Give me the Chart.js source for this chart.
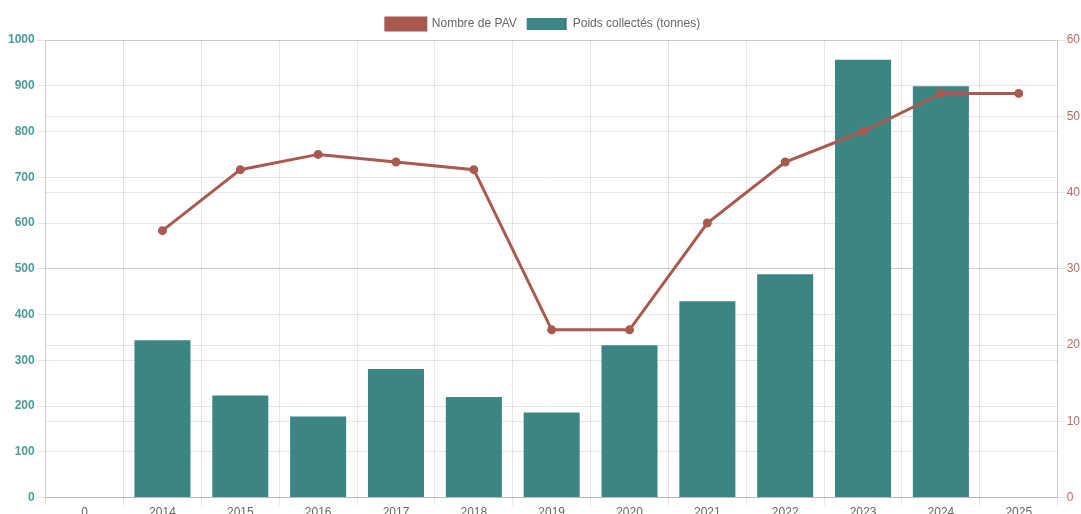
<!DOCTYPE html>
<html>
<head>
<meta charset="utf-8">
<script src="https://cdn.jsdelivr.net/npm/chart.js@4.4.1/dist/chart.umd.min.js"></script>
<style>
  html, body { margin: 0; padding: 0; background: #fff; overflow: hidden; }
  #wrap { width: 1081px; height: 520px; }
</style>
</head>
<body>
<div id="wrap"><canvas id="chart"></canvas></div>
<script>
const annees = ['0', '2014', '2015', '2016', '2017', '2018', '2019', '2020', '2021', '2022', '2023', '2024', '2025'];
const nombrePAV = [null, 35, 43, 45, 44, 43, 22, 22, 36, 44, 48, 53, 53];
const poidsCollectes = [null, 344, 223, 177, 281, 220, 186, 333, 429, 488, 957, 899, null];

Chart.defaults.font.family = '"Liberation Sans", Arial, sans-serif';
Chart.defaults.font.size = 12;
Chart.defaults.color = '#666';

const ctx = document.getElementById('chart').getContext('2d');
const chart = new Chart(ctx, {
    type: 'bar',
    data: {
        labels: annees,
        datasets: [{
            type: 'line',
            label: 'Nombre de PAV',
            data: nombrePAV,
            yAxisID: 'y1',
            borderColor: '#a85a4f',
            backgroundColor: '#a85a4f',
            borderWidth: 3,
            pointRadius: 3,
            tension: 0
        }, {
            type: 'bar',
            label: 'Poids collectés (tonnes)',
            data: poidsCollectes,
            yAxisID: 'y',
            backgroundColor: '#3b8682',
            borderColor: '#3b8682'
        }]
    },
    options: {
        responsive: true,
        maintainAspectRatio: false,
        animation: false,
        layout: { padding: { top: 8, right: 0, left: 5, bottom: 0 } },
        plugins: {
            legend: {
                labels: { boxWidth: 40, boxHeight: 12 }
            },
            tooltip: { enabled: false }
        },
        scales: {
            x: {
                ticks: { padding: 0 },
                grid: { color: 'rgba(0,0,0,0.1)' }
            },
            y: {
                position: 'left',
                min: 0,
                max: 1000,
                ticks: {
                    stepSize: 100,
                    color: '#4a9b98',
                    font: { weight: 'bold' },
                    callback: v => String(v)
                },
                grid: { color: 'rgba(0,0,0,0.1)' }
            },
            y1: {
                position: 'right',
                min: 0,
                max: 60,
                ticks: { stepSize: 10, color: '#b86a60', padding: 1 },
                grid: { color: 'rgba(0,0,0,0.1)' }
            }
        }
    }
});
</script>
</body>
</html>
